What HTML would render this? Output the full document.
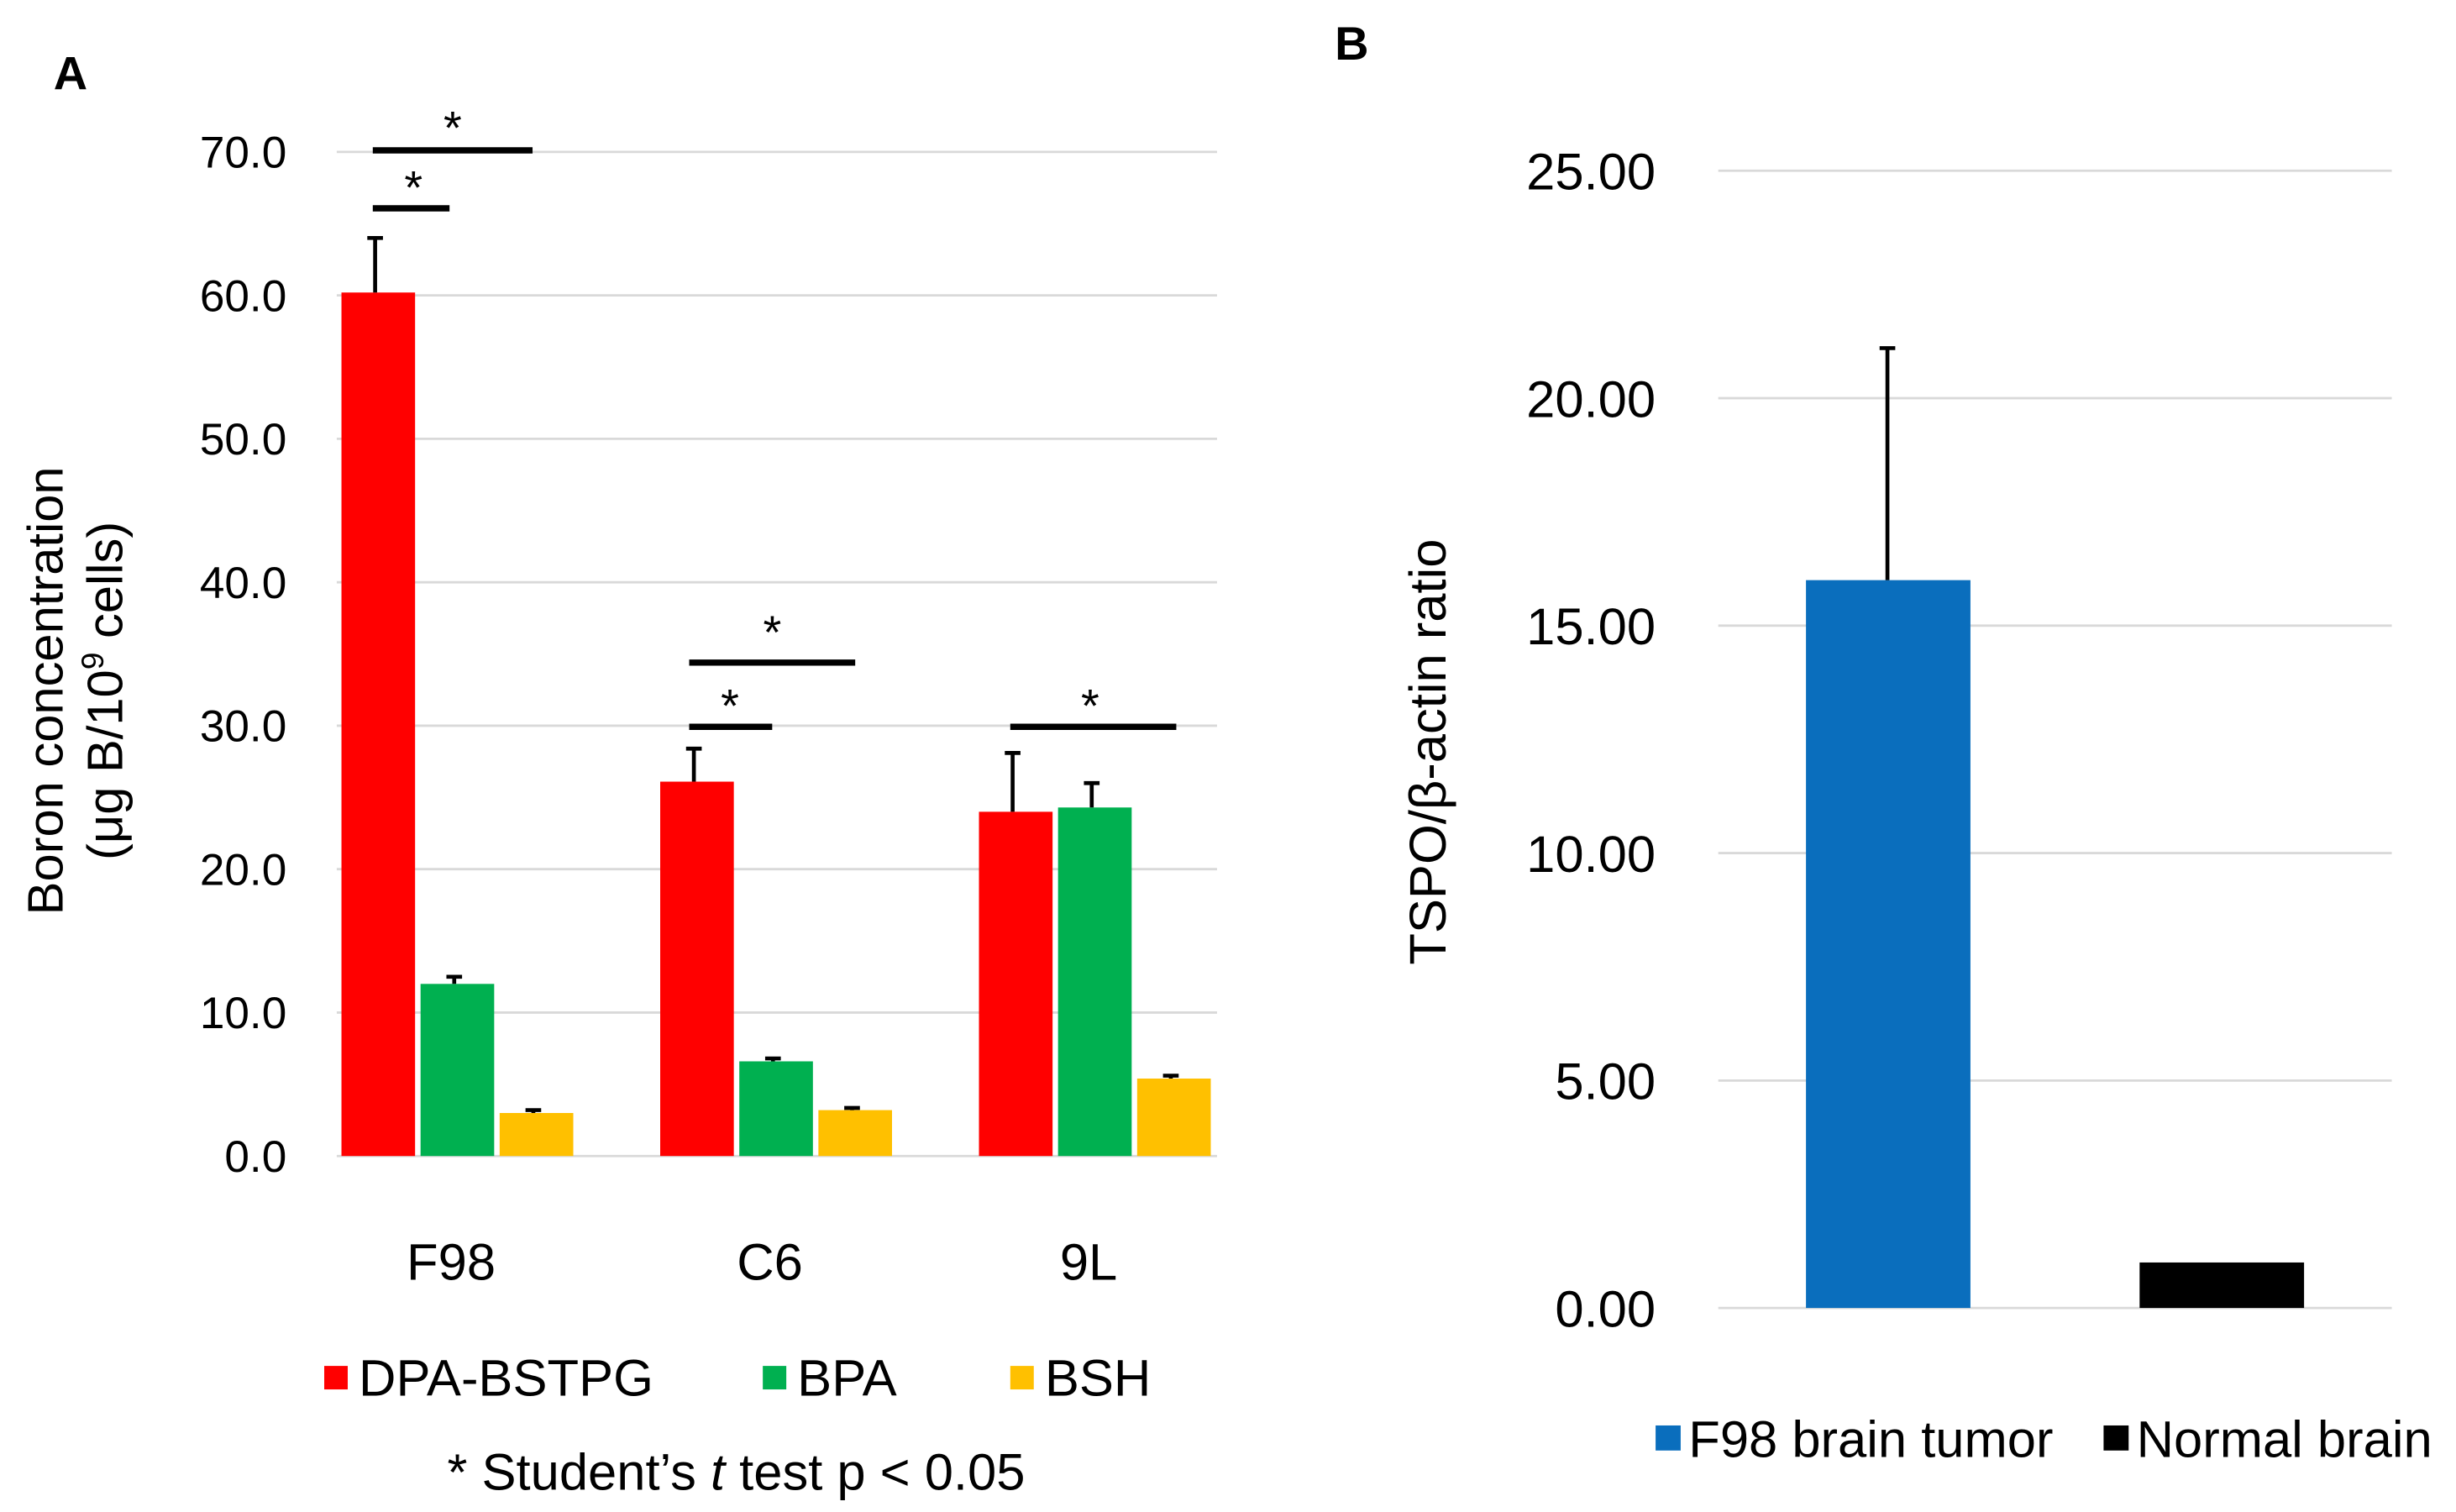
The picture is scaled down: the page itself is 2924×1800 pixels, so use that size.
<!DOCTYPE html>
<html><head><meta charset="utf-8"><style>
html,body{margin:0;padding:0;background:#fff;}
svg{display:block;font-family:"Liberation Sans",Arial,sans-serif;}
</style></head><body>
<svg id="fig" width="2924" height="1800" viewBox="0 0 1568 965.25" xmlns="http://www.w3.org/2000/svg">
<g id="A"></g>
<g id="B"></g>
</svg>
<script>
const catsA = ["F98","C6","9L"];
const seriesA = ["DPA-BSTPG","BPA","BSH"];
const valDPA = [60.2, 26.1, 24.0];
const errDPA = [3.8, 2.3, 4.1];
const valBPA = [12.0, 6.6, 24.3];
const errBPA = [0.5, 0.2, 1.7];
const valBSH = [3.0, 3.2, 5.4];
const errBSH = [0.2, 0.15, 0.2];
const ticksA = ["0.0","10.0","20.0","30.0","40.0","50.0","60.0","70.0"];
const catsB = ["F98 brain tumor","Normal brain"];
const valB = [16.0, 1.0];
const errB = [5.1, 0];
const ticksB = ["0.00","5.00","10.00","15.00","20.00","25.00"];

const NS="http://www.w3.org/2000/svg";
function mk(parent,tag,attrs,txt){const e=document.createElementNS(NS,tag);for(const k in attrs)e.setAttribute(k,attrs[k]);if(txt!==undefined)e.textContent=txt;parent.appendChild(e);return e;}

// Panel A
const A=document.getElementById('A');
const aL=215,aR=777,aY0=738,aY70=97;
const yA=v=>aY0-(v/70)*(aY0-aY70);
const catStep=203.5;
const xA=(c,s)=>aL+3+c*catStep+s*50.5;
const colors=["#ff0000","#00b050","#ffc000"];
let t=mk(A,'text',{x:45,y:57,'font-size':30,'font-weight':'bold','text-anchor':'middle'},'A');

ticksA.forEach(tk=>{const v=parseFloat(tk);
 const g=mk(A,'line',{x1:aL,x2:aR,y1:yA(v),y2:yA(v),stroke:'#d9d9d9','stroke-width':1.5});
 
 const l=mk(A,'text',{x:183,y:yA(v)+10,'font-size':28.5,'text-anchor':'end'},tk);
 });
[valDPA,valBPA,valBSH].forEach((vals,s)=>{const errs=[errDPA,errBPA,errBSH][s];
 vals.forEach((v,c)=>{const x=xA(c,s),w=47;
  const r=mk(A,'rect',{x:x,y:yA(v),width:w,height:aY0-yA(v),fill:colors[s]});
  
  const cx=x+w/2-2,ye=yA(v+errs[c]);
  const e=mk(A,'path',{d:`M${cx},${yA(v)} V${ye} M${cx-5},${ye} H${cx+5}`,stroke:'#000','stroke-width':2.5,fill:'none'});
  });});
catsA.forEach((c,i)=>{const l=mk(A,'text',{x:aL+3+catStep*i+70,y:817,'font-size':33,'text-anchor':'middle'},c);
 });
// significance
const sig=[[238,340,96,289,92],[238,287,133,264,130],[440,546,423,493,414],[440,493,464,466,461],[645,751,464,696,461]];
sig.forEach(s=>{const ln=mk(A,'line',{x1:s[0],x2:s[1],y1:s[2],y2:s[2],stroke:'#000','stroke-width':4});
 
 const st=mk(A,'text',{x:s[3],y:s[4],'font-size':30,'text-anchor':'middle'},'*');
 });
// y title
t=mk(A,'text',{transform:'translate(40,441) rotate(-90)','font-size':32,'text-anchor':'middle'},'Boron concentration');

t=mk(A,'text',{transform:'translate(78,441) rotate(-90)','font-size':32,'text-anchor':'middle'});

t.innerHTML='(μg B/10<tspan dy="-12" font-size="20">9</tspan><tspan dy="12">  cells)</tspan>';
// legend A
const legX=[207,487,645];
seriesA.forEach((s,i)=>{const r=mk(A,'rect',{x:legX[i],y:872,width:15,height:15,fill:colors[i]});
 
 const l=mk(A,'text',{x:legX[i]+22,y:891,'font-size':33},s);
 });
t=mk(A,'text',{x:470,y:951,'font-size':33,'text-anchor':'middle'});

t.innerHTML='* Student’s <tspan font-style="italic">t</tspan> test p &lt; 0.05';

// Panel B
const B=document.getElementById('B');
const bL=1097,bR=1527,bY0=835,bY25=109;
const yB=v=>bY0-(v/25)*(bY0-bY25);
const bColors=["#0a6ebd","#000000"];
const bX=[1153,1366];
t=mk(B,'text',{x:863,y:38,'font-size':30,'font-weight':'bold','text-anchor':'middle'},'B');

ticksB.forEach(tk=>{const v=parseFloat(tk);
 const g=mk(B,'line',{x1:bL,x2:bR,y1:yB(v),y2:yB(v),stroke:'#d9d9d9','stroke-width':1.5});
 
 const l=mk(B,'text',{x:1057,y:yB(v)+12,'font-size':33,'text-anchor':'end'},tk);
 });
valB.forEach((v,i)=>{const r=mk(B,'rect',{x:bX[i],y:yB(v),width:105,height:bY0-yB(v),fill:bColors[i]});
 
 if(errB[i]>0){const cx=bX[i]+52,ye=yB(v+errB[i]);
  const e=mk(B,'path',{d:`M${cx},${yB(v)} V${ye} M${cx-5},${ye} H${cx+5}`,stroke:'#000','stroke-width':2.5,fill:'none'});
  }});
t=mk(B,'text',{transform:'translate(923,480) rotate(-90)','font-size':33,'text-anchor':'middle'},'TSPO/β-actin ratio');

const legBX=[1057,1343];
catsB.forEach((c,i)=>{const r=mk(B,'rect',{x:legBX[i],y:910,width:16,height:16,fill:bColors[i]});
 
 const l=mk(B,'text',{x:legBX[i]+21,y:930,'font-size':33},c);
 });
</script>
</body></html>
